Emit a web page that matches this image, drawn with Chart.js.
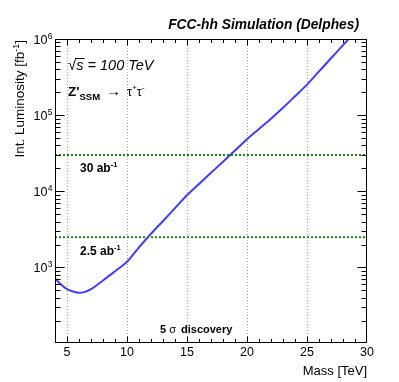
<!DOCTYPE html>
<html><head><meta charset="utf-8">
<script src="https://cdn.jsdelivr.net/npm/chart.js@4.4.1/dist/chart.umd.min.js"></script>
<style>html,body{margin:0;padding:0;background:#fff}#c{display:block}</style>
</head><body>
<canvas id="c" width="399" height="382"></canvas>
<script>
// ---- data ----
const massTeV = [4,4.5,5,5.5,6,6.5,7,7.5,8,8.5,9,9.5,10,11,12,13,14,15,16,17,18,19,20,21,22,23,24,25,26,27,28,29];
const lumiFb  = [718,600,520,485,466,479,519,589,676,776,891,1023,1190,1840,2770,4080,6020,8870,12500,17500,24500,34400,48400,66000,90000,125000,177000,252000,375000,558000,830000,1230000];
const thresholdLumi = [30000, 2500];
const thresholdLabels = ['30 ab', '2.5 ab'];
const xTickValues = [5,10,15,20,25,30];
const yDecadeExps = [3,4,5,6];
const xRange = [4,30];
const yRange = [102,1e6];

const FONT = '"Liberation Sans", Arial, Helvetica, sans-serif';

function rich(ctx, parts, x, y, align) {
  let w = 0;
  parts.forEach(p => { ctx.font = p.font; p.w = ctx.measureText(p.text).width + (p.gap || 0); w += p.w; });
  let cx = align === 'right' ? x - w : (align === 'center' ? x - w / 2 : x);
  parts.forEach(p => { ctx.font = p.font; ctx.fillText(p.text, cx, y + (p.dy || 0)); cx += p.w; });
  return w;
}

const rootStyle = {
  id: 'rootStyle',
  beforeDatasetsDraw(chart) {
    const ctx = chart.ctx, a = chart.chartArea, xs = chart.scales.x;
    ctx.save();
    ctx.strokeStyle = '#a0a0a0';
    ctx.lineWidth = 1;
    ctx.setLineDash([1, 2]);
    xTickValues.forEach(v => {
      if (v >= xRange[1]) return;
      const px = Math.round(xs.getPixelForValue(v)) + 0.5;
      ctx.beginPath(); ctx.moveTo(px, a.top); ctx.lineTo(px, a.bottom); ctx.stroke();
    });
    ctx.restore();
  },
  afterDraw(chart) {
    const ctx = chart.ctx, a = chart.chartArea, xs = chart.scales.x, ys = chart.scales.y;
    ctx.save();
    ctx.fillStyle = '#000';
    ctx.strokeStyle = '#000';
    ctx.lineWidth = 1;
    ctx.setLineDash([]);
    const L = a.left + 0.5, R = a.right - 0.5, T = a.top + 0.5, B = a.bottom - 0.5;
    ctx.strokeRect(L, T, R - L, B - T);
    for (let v = xRange[0] + 1; v < xRange[1]; v++) {
      const major = v % 5 === 0;
      const len = major ? 6 : 3.5;
      const px = Math.round(xs.getPixelForValue(v)) + 0.5;
      ctx.beginPath();
      ctx.moveTo(px, B); ctx.lineTo(px, B - len);
      ctx.moveTo(px, T); ctx.lineTo(px, T + len);
      ctx.stroke();
    }
    for (let e = 2; e <= 6; e++) {
      for (let m = 1; m <= 9; m++) {
        const v = m * Math.pow(10, e);
        if (v < yRange[0] || v > yRange[1]) continue;
        const len = m === 1 ? 9 : 5;
        const py = Math.round(ys.getPixelForValue(v)) + 0.5;
        ctx.beginPath();
        ctx.moveTo(L, py); ctx.lineTo(L + len, py);
        ctx.moveTo(R, py); ctx.lineTo(R - len, py);
        ctx.stroke();
      }
    }
    ctx.textBaseline = 'alphabetic';
    ctx.textAlign = 'center';
    ctx.font = '12.5px ' + FONT;
    xTickValues.forEach(v => {
      ctx.fillText(String(v), xs.getPixelForValue(v), 356);
    });
    ctx.textAlign = 'left';
    yDecadeExps.forEach(e => {
      const py = ys.getPixelForValue(Math.pow(10, e));
      ctx.font = '12.5px ' + FONT;
      const w = ctx.measureText('10').width;
      ctx.fillText('10', 47.5 - w, py + 4.5);
      ctx.font = '8.5px ' + FONT;
      ctx.fillText(String(e), 47.8, py - 0.5);
    });
    ctx.font = '13px ' + FONT;
    ctx.textAlign = 'right';
    ctx.fillText('Mass [TeV]', a.right, 375);
    ctx.save();
    ctx.translate(23.5, a.top + 1);
    ctx.rotate(-Math.PI / 2);
    ctx.textAlign = 'left';
    rich(ctx, [
      { text: 'Int. Luminosity [fb', font: '13.5px ' + FONT },
      { text: '-1', font: '9px ' + FONT, dy: -5 },
      { text: ']', font: '13.5px ' + FONT }
    ], 0, 0, 'right');
    ctx.restore();
    ctx.textAlign = 'left';
    rich(ctx, [{ text: 'FCC-hh Simulation (Delphes)', font: 'italic bold 13.8px ' + FONT }], 359, 28.5, 'right');
    rich(ctx, [
      { text: '\u221A', font: '15px ' + FONT },
      { text: 's = 100 TeV', font: 'italic 14.5px ' + FONT }
    ], 68, 70, 'left');
    ctx.font = '15px ' + FONT;
    const sqrtW = ctx.measureText('\u221A').width;
    ctx.font = 'italic 14.5px ' + FONT;
    const sW = ctx.measureText('s').width;
    ctx.beginPath();
    ctx.moveTo(68 + sqrtW - 1, 58.5); ctx.lineTo(68 + sqrtW + sW + 1, 58.5); ctx.stroke();
    rich(ctx, [
      { text: "Z'", font: 'bold 13.5px ' + FONT },
      { text: 'SSM', font: 'bold 9.5px ' + FONT, dy: 4, gap: 6 },
      { text: '\u2192', font: '15px ' + FONT, gap: 6 },
      { text: '\u03C4', font: '13px ' + FONT },
      { text: '+', font: '8px ' + FONT, dy: -6 },
      { text: '\u03C4', font: '13px ' + FONT },
      { text: '-', font: '8px ' + FONT, dy: -6 }
    ], 68, 96, 'left');
    const thrBase = [172, 255];
    thresholdLabels.forEach((t, i) => {
      rich(ctx, [
        { text: t, font: 'bold 12px ' + FONT },
        { text: '-1', font: 'bold 7.5px ' + FONT, dy: -5 }
      ], 80, thrBase[i], 'left');
    });
    rich(ctx, [
      { text: '5 ', font: 'bold 11px ' + FONT },
      { text: '\u03C3', font: '11px ' + FONT, gap: 2 },
      { text: ' discovery', font: 'bold 11px ' + FONT }
    ], 160, 333, 'left');
    ctx.restore();
  }
};

const curvePoints = massTeV.map((m, i) => ({ x: m, y: lumiFb[i] }));
const thresholdSets = thresholdLumi.map(v => ({
  data: [{ x: xRange[0], y: v }, { x: xRange[1], y: v }],
  borderColor: '#168a16',
  borderWidth: 2,
  borderDash: [2, 2],
  pointRadius: 0,
  fill: false
}));

new Chart(document.getElementById('c'), {
  type: 'line',
  data: {
    datasets: [
      ...thresholdSets,
      {
        data: curvePoints,
        borderColor: '#3d3dff',
        borderWidth: 2,
        pointRadius: 0,
        cubicInterpolationMode: 'monotone',
        fill: false
      }
    ]
  },
  options: {
    responsive: false,
    animation: false,
    devicePixelRatio: 1,
    layout: { padding: { left: 55, right: 32, top: 39, bottom: 39 } },
    plugins: { legend: { display: false }, tooltip: { enabled: false } },
    scales: {
      x: { type: 'linear', min: xRange[0], max: xRange[1], display: false },
      y: { type: 'logarithmic', min: yRange[0], max: yRange[1], display: false }
    }
  },
  plugins: [rootStyle]
});
</script>
</body></html>
